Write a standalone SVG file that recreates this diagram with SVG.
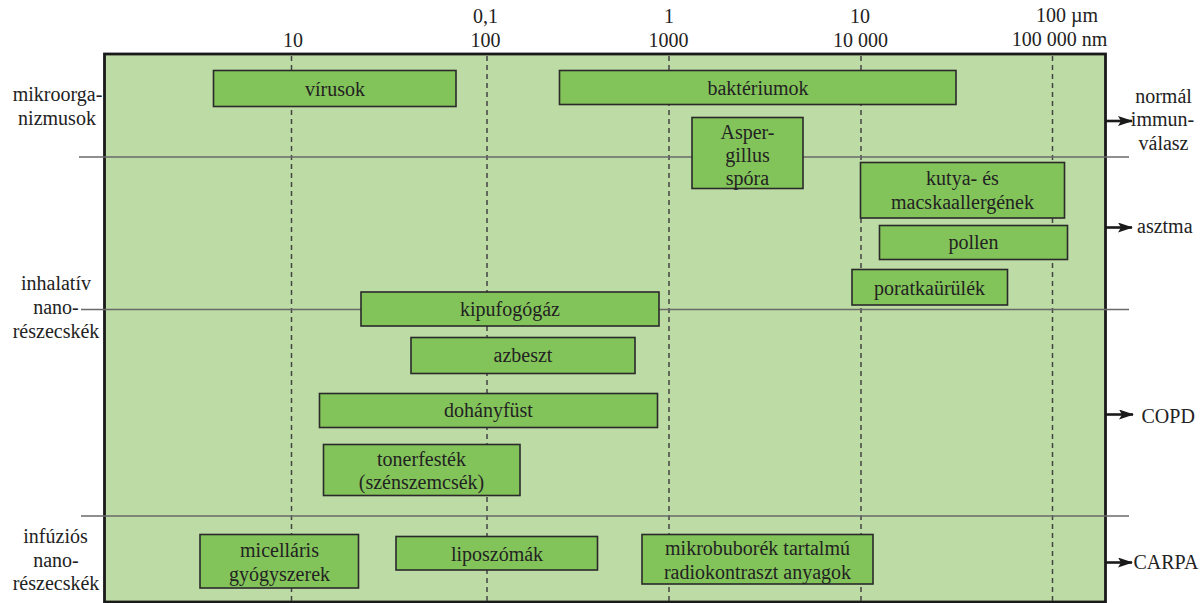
<svg xmlns="http://www.w3.org/2000/svg" width="1202" height="603" viewBox="0 0 1202 603" font-family="'Liberation Serif', 'DejaVu Serif', serif">
  <style>
    text { font-family: "Liberation Serif", "DejaVu Serif", serif; font-size: 20px; fill: #222; }
    .c { text-anchor: middle; }
    .frame { fill: #bcdba5; stroke: #1a1a1a; stroke-width: 2.8; }
    .grid { fill: none; stroke: #444; stroke-width: 1.5; stroke-dasharray: 5 4; }
    .sep { fill: none; stroke: #6a6a6a; stroke-width: 1.6; }
    .box { fill: #83c45a; stroke: #2a2a2a; stroke-width: 1.6; }
    .arrow { fill: none; stroke: #1a1a1a; stroke-width: 2.6; marker-end: url(#head); }
  </style>
  <defs>
    <marker id="head" viewBox="0 0 15 10" refX="14" refY="5" markerWidth="15" markerHeight="10" markerUnits="userSpaceOnUse" orient="auto">
      <path d="M0,0 L15,5 L0,10 L3,5 Z" fill="#1a1a1a"/>
    </marker>
  </defs>

  <rect width="1202" height="603" fill="#ffffff"/>

  <!-- plotting frame -->
  <rect class="frame" x="104.5" y="54" width="1001" height="548"/>

  <!-- size scale (nm / µm) -->
  <g id="scale">
    <text class="c" x="293" y="47">10</text>
    <text class="c" x="485.5" y="23">0,1</text>
    <text class="c" x="485.5" y="47">100</text>
    <text class="c" x="669" y="23">1</text>
    <text class="c" x="668.5" y="47">1000</text>
    <text class="c" x="860" y="23">10</text>
    <text class="c" x="860.5" y="47">10 000</text>
    <text class="c" x="1067" y="22">100 µm</text>
    <text class="c" x="1059.5" y="46">100 000 nm</text>
  </g>

  <!-- dashed decade lines -->
  <g id="gridlines">
    <line class="grid" x1="291.5" y1="56" x2="291.5" y2="601"/>
    <line class="grid" x1="487" y1="56" x2="487" y2="601"/>
    <line class="grid" x1="669" y1="56" x2="669" y2="601"/>
    <line class="grid" x1="861" y1="56" x2="861" y2="601"/>
    <line class="grid" x1="1052.5" y1="56" x2="1052.5" y2="601"/>
  </g>

  <!-- category separators -->
  <g id="separators">
    <line class="sep" x1="79" y1="157" x2="1129" y2="157"/>
    <line class="sep" x1="81" y1="309.5" x2="1129" y2="309.5"/>
    <line class="sep" x1="81" y1="516" x2="1129" y2="516"/>
  </g>

  <!-- category labels -->
  <g id="cat-mikroorganizmusok">
    <text class="c" x="57.5" y="101">mikroorga-</text>
    <text class="c" x="57" y="125">nizmusok</text>
  </g>
  <g id="cat-inhalativ">
    <text class="c" x="56" y="290">inhalatív</text>
    <text class="c" x="56" y="314">nano-</text>
    <text class="c" x="56" y="337.5">részecskék</text>
  </g>
  <g id="cat-infuzios">
    <text class="c" x="55.5" y="542.5">infúziós</text>
    <text class="c" x="56" y="566.5">nano-</text>
    <text class="c" x="56" y="590">részecskék</text>
  </g>

  <!-- particle ranges -->
  <g id="virusok">
    <rect class="box" x="213.5" y="70.5" width="242.5" height="36"/>
    <text class="c" x="335" y="95.5">vírusok</text>
  </g>
  <g id="bakteriumok">
    <rect class="box" x="559.5" y="70.5" width="396.5" height="34"/>
    <text class="c" x="758" y="94.5">baktériumok</text>
  </g>
  <g id="aspergillus">
    <rect class="box" x="692" y="117.5" width="111" height="71"/>
    <text class="c" x="747.5" y="138.5">Asper-</text>
    <text class="c" x="747.5" y="161.5">gillus</text>
    <text class="c" x="747.5" y="184.5">spóra</text>
  </g>
  <g id="kutya-macska">
    <rect class="box" x="860.5" y="162.5" width="204" height="55.5"/>
    <text class="c" x="962.5" y="184.5">kutya- és</text>
    <text class="c" x="962.5" y="208.5">macskaallergének</text>
  </g>
  <g id="pollen">
    <rect class="box" x="879.5" y="225.5" width="188" height="34"/>
    <text class="c" x="973.5" y="248.5">pollen</text>
  </g>
  <g id="poratka">
    <rect class="box" x="852" y="269.5" width="155.5" height="35.5"/>
    <text class="c" x="929.5" y="294.5">poratkaürülék</text>
  </g>
  <g id="kipufogogaz">
    <rect class="box" x="361" y="292" width="298" height="34"/>
    <text class="c" x="510" y="316">kipufogógáz</text>
  </g>
  <g id="azbeszt">
    <rect class="box" x="411" y="337.5" width="224" height="36"/>
    <text class="c" x="523" y="362">azbeszt</text>
  </g>
  <g id="dohanyfust">
    <rect class="box" x="319.5" y="393.5" width="338" height="34"/>
    <text class="c" x="488.5" y="417">dohányfüst</text>
  </g>
  <g id="tonerfestek">
    <rect class="box" x="323.5" y="444.5" width="196.5" height="51"/>
    <text class="c" x="421.5" y="465.5">tonerfesték</text>
    <text class="c" x="421.5" y="489">(szénszemcsék)</text>
  </g>
  <g id="micellaris">
    <rect class="box" x="200" y="534.5" width="158.5" height="53.5"/>
    <text class="c" x="279.5" y="556.5">micelláris</text>
    <text class="c" x="279.5" y="580.5">gyógyszerek</text>
  </g>
  <g id="liposzomak">
    <rect class="box" x="396" y="536.5" width="201.5" height="33.5"/>
    <text class="c" x="497" y="560.5">liposzómák</text>
  </g>
  <g id="mikrobuborek">
    <rect class="box" x="642" y="534.5" width="231" height="49.5"/>
    <text class="c" x="757.5" y="555">mikrobuborék tartalmú</text>
    <text class="c" x="757.5" y="578.5">radiokontraszt anyagok</text>
  </g>

  <!-- outcome arrows -->
  <g id="connectors">
    <line class="arrow" x1="1106" y1="121" x2="1132" y2="121"/>
    <line class="arrow" x1="1106" y1="227.5" x2="1132" y2="227.5"/>
    <line class="arrow" x1="1106" y1="414.5" x2="1133" y2="414.5"/>
    <line class="arrow" x1="1106" y1="562.5" x2="1132" y2="562.5"/>
  </g>

  <!-- outcome labels -->
  <g id="out-normal">
    <text class="c" x="1163.5" y="102.5">normál</text>
    <text class="c" x="1162.5" y="126">immun-</text>
    <text class="c" x="1163.5" y="150">válasz</text>
  </g>
  <g id="out-asztma">
    <text x="1137" y="233">asztma</text>
  </g>
  <g id="out-copd">
    <text x="1141.5" y="422.5">COPD</text>
  </g>
  <g id="out-carpa">
    <text x="1133.5" y="568.5">CARPA</text>
  </g>
</svg>
